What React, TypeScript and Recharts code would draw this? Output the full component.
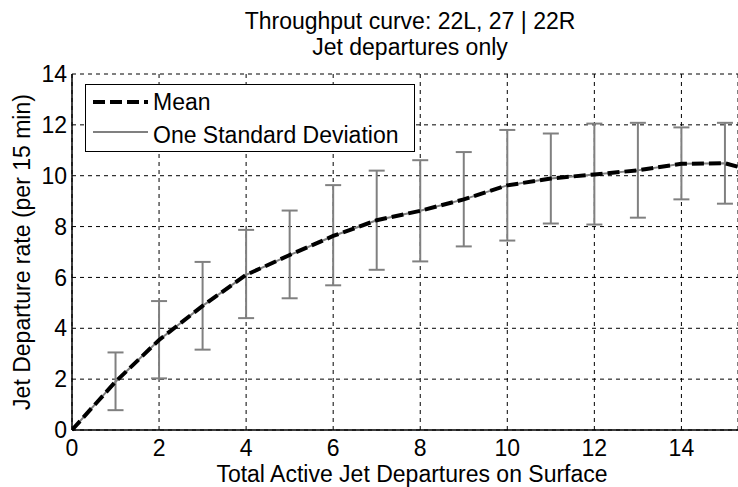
import { CartesianGrid, ComposedChart, ErrorBar, Legend, Line, XAxis, YAxis } from "recharts";

const FONT = "'Liberation Sans', Arial, sans-serif";
const GRAY = "#808080";

const activeJets = [0, 1, 2, 3, 4, 5, 6, 7, 8, 9, 10, 11, 12, 13, 14, 15, 15.3];
const meanRate = [0, 1.9, 3.54, 4.88, 6.1, 6.88, 7.63, 8.25, 8.62, 9.07, 9.62, 9.89, 10.05, 10.21, 10.47, 10.49, 10.35];
const sdLow = [null, 0.78, 2.03, 3.16, 4.4, 5.18, 5.69, 6.3, 6.63, 7.22, 7.45, 8.12, 8.08, 8.35, 9.07, 8.9, null];
const sdHigh = [null, 3.05, 5.07, 6.61, 7.87, 8.63, 9.63, 10.2, 10.61, 10.93, 11.8, 11.66, 12.05, 12.08, 11.9, 12.08, null];

const xTicks = [0, 2, 4, 6, 8, 10, 12, 14];
const yTicks = [0, 2, 4, 6, 8, 10, 12, 14];

const rows = activeJets.map((x, i) => {
  const lo = sdLow[i];
  const hi = sdHigh[i];
  return {
    x,
    mean: meanRate[i],
    sd: lo == null || hi == null ? undefined : [meanRate[i] - lo, hi - meanRate[i]],
  };
});

function LegendBox() {
  return (
    <svg width={330} height={68} style={{ display: "block" }}>
      <rect x={0.5} y={0.5} width={329} height={67} fill="#fff" stroke="#000" strokeWidth={1} />
      <line x1={8} y1={18} x2={63} y2={18} stroke="#000" strokeWidth={4} strokeDasharray="12 5" />
      <text x={68} y={26} fontSize={23} fontFamily={FONT} fill="#000">Mean</text>
      <line x1={8} y1={48} x2={63} y2={48} stroke={GRAY} strokeWidth={2} />
      <text x={68} y={59} fontSize={23} fontFamily={FONT} fill="#000">One Standard Deviation</text>
    </svg>
  );
}

export default function App() {
  return (
    <div style={{ position: "absolute", left: 0, top: 0, width: 738, height: 487, background: "#fff", fontFamily: FONT }}>
      <div
        style={{
          position: "absolute",
          left: 110,
          top: 8,
          width: 600,
          textAlign: "center",
          fontSize: 23,
          lineHeight: "26px",
          color: "#000",
        }}
      >
        <div>Throughput curve: 22L, 27 | 22R</div>
        <div>Jet departures only</div>
      </div>
      <ComposedChart
        width={738}
        height={487}
        data={rows}
        margin={{ top: 74, right: 0, bottom: 0, left: 0 }}
        style={{ position: "absolute", left: 0, top: 0 }}
      >
        <CartesianGrid stroke="#000" strokeWidth={1} strokeDasharray="4 4" />
        <XAxis
          dataKey="x"
          type="number"
          domain={[0, 15.3]}
          ticks={xTicks}
          allowDataOverflow
          height={57}
          tickLine={false}
          tickSize={6}
          tickMargin={4}
          axisLine={{ stroke: "#000", strokeWidth: 1.5 }}
          tick={{ fontSize: 23, fill: "#000", fontFamily: FONT }}
          label={{
            content: () => (
              <text x={412} y={482} textAnchor="middle" fontSize={23} fontFamily={FONT} fill="#000">
                Total Active Jet Departures on Surface
              </text>
            ),
          }}
        />
        <XAxis
          xAxisId="top"
          orientation="top"
          type="number"
          domain={[0, 15.3]}
          ticks={xTicks}
          allowDataOverflow
          height={0}
          tick={false}
          tickSize={-6}
          tickLine={{ stroke: "#000" }}
          axisLine={{ stroke: "#000", strokeWidth: 1.5 }}
        />
        <YAxis
          type="number"
          domain={[0, 14]}
          ticks={yTicks}
          width={72}
          tickLine={false}
          tickSize={3}
          tickMargin={2}
          axisLine={{ stroke: "#000", strokeWidth: 1.5 }}
          tick={{ fontSize: 23, fill: "#000", fontFamily: FONT }}
          label={{
            content: () => (
              <text
                transform="translate(30,252) rotate(-90)"
                textAnchor="middle"
                fontSize={23}
                fontFamily={FONT}
                fill="#000"
              >
                Jet Departure rate (per 15 min)
              </text>
            ),
          }}
        />
        <Line
          dataKey="mean"
          stroke={GRAY}
          strokeWidth={2}
          dot={false}
          isAnimationActive={false}
          legendType="none"
        >
          <ErrorBar dataKey="sd" width={8} stroke={GRAY} strokeWidth={2} direction="y" />
        </Line>
        <Line
          dataKey="mean"
          stroke="#000"
          strokeWidth={4}
          strokeDasharray="12 5"
          dot={false}
          isAnimationActive={false}
        />
        <Legend
          layout="vertical"
          align="center"
          verticalAlign="middle"
          content={() => <LegendBox />}
          wrapperStyle={{ left: 85, top: 84, width: 330, height: 68 }}
        />
      </ComposedChart>
    </div>
  );
}
